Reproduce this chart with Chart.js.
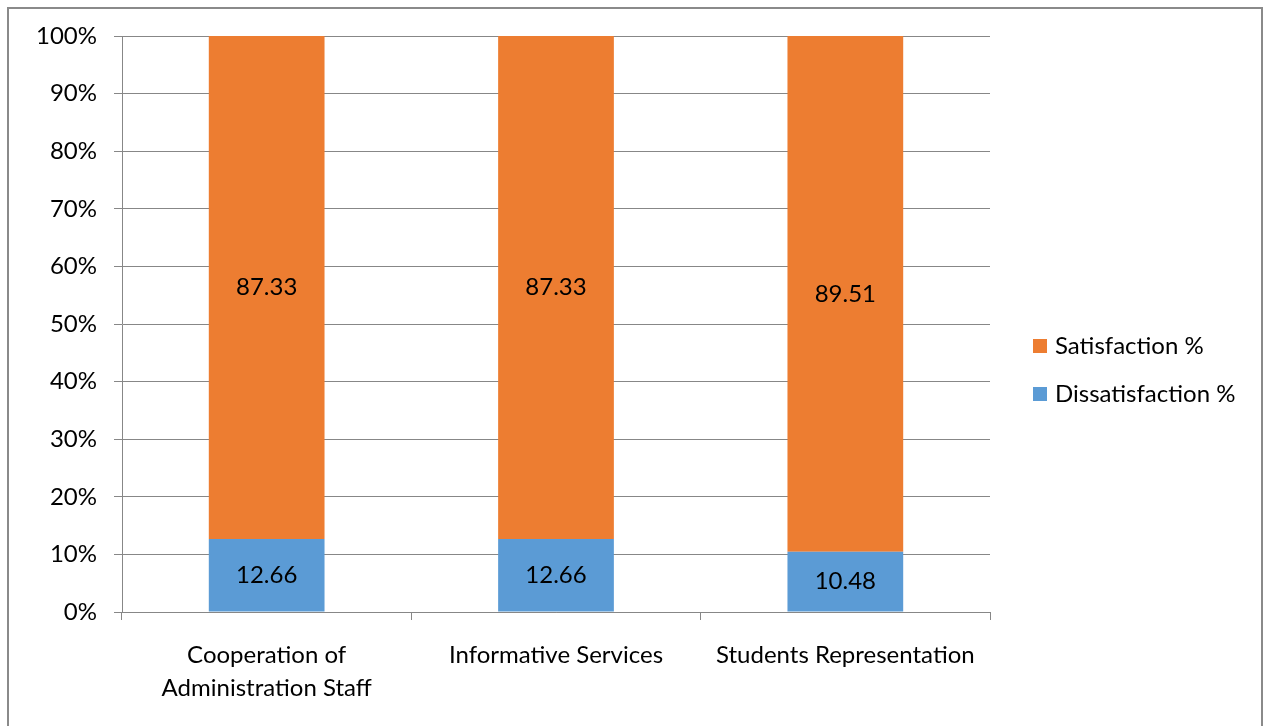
<!DOCTYPE html>
<html>
<head>
<meta charset="utf-8">
<script src="https://cdn.jsdelivr.net/npm/chart.js@4/dist/chart.umd.min.js"></script>
<style>
  body { margin: 0; background: #fff; overflow: hidden; }
  #frame { position: absolute; left: 7px; top: 7px; width: 1252px; height: 760px; border: 2px solid #8a8a8a; }
  #myChart { position: absolute; left: 0; top: 0; }
</style>
</head>
<body>
<div id="frame"></div>
<canvas id="myChart" width="1263" height="726"></canvas>
<script>
var categories = [['Cooperation of', 'Administration Staff'], 'Informative Services', 'Students Representation'];
var dissatisfaction = [12.66, 12.66, 10.48];
var satisfaction = [87.33, 87.33, 89.51];
var yTicks = [0, 10, 20, 30, 40, 50, 60, 70, 80, 90, 100];

Chart.defaults.font.family = 'Lato';
Chart.defaults.font.size = 24;
Chart.defaults.color = '#000';

// writes the value in the middle of each bar segment
var segmentLabels = {
    id: 'segmentLabels',
    afterDatasetsDraw: function(chart) {
        var ctx = chart.ctx;
        ctx.save();
        ctx.font = '24px Lato';
        ctx.fillStyle = '#000';
        ctx.textAlign = 'center';
        ctx.textBaseline = 'middle';
        chart.data.datasets.forEach(function(ds, i) {
            chart.getDatasetMeta(i).data.forEach(function(bar, j) {
                ctx.fillText(ds.data[j].toFixed(2), bar.x, (bar.y + bar.base) / 2);
            });
        });
        ctx.restore();
    }
};

// legend to the right of the plot, last series on top like Excel
var sideLegend = {
    id: 'sideLegend',
    afterDraw: function(chart) {
        var ctx = chart.ctx;
        var x = chart.chartArea.right + 43;
        var y = 346;
        ctx.save();
        ctx.font = '24px Lato';
        ctx.textBaseline = 'middle';
        ctx.textAlign = 'left';
        chart.data.datasets.slice().reverse().forEach(function(ds) {
            ctx.fillStyle = ds.backgroundColor;
            ctx.fillRect(x, y - 7, 14, 14);
            ctx.fillStyle = '#000';
            ctx.fillText(ds.label, x + 22, y);
            y += 48;
        });
        ctx.restore();
    }
};

function drawChart() {
    new Chart(document.getElementById('myChart').getContext('2d'), {
        type: 'bar',
        data: {
            labels: categories,
            datasets: [{
                label: 'Dissatisfaction %',
                data: dissatisfaction,
                backgroundColor: '#5B9BD5'
            }, {
                label: 'Satisfaction %',
                data: satisfaction,
                backgroundColor: '#ED7D31'
            }]
        },
        options: {
            responsive: false,
            animation: false,
            categoryPercentage: 1,
            barPercentage: 0.4,
            layout: { padding: { top: 36, bottom: 16, left: 0, right: 273 } },
            plugins: {
                tooltip: { enabled: false },
                legend: { display: false }
            },
            scales: {
                x: {
                    stacked: true,
                    grid: { offset: true, drawOnChartArea: false, tickLength: 8, color: '#878787' },
                    border: { color: '#878787' },
                    ticks: { padding: 18, maxRotation: 0, font: { lineHeight: 1.4 } },
                    afterFit: function(s) { s.height = 98; }
                },
                y: {
                    stacked: true,
                    min: 0,
                    max: 100,
                    afterBuildTicks: function(s) { s.ticks = yTicks.map(function(v) { return { value: v }; }); },
                    ticks: { padding: 17, callback: function(v) { return v + '%'; } },
                    grid: { tickLength: 8, color: '#878787' },
                    border: { color: '#878787' },
                    afterFit: function(s) { s.width = 122; }
                }
            }
        },
        plugins: [segmentLabels, sideLegend]
    });
}

document.fonts.load('24px Lato').then(drawChart, drawChart);
</script>
</body>
</html>
